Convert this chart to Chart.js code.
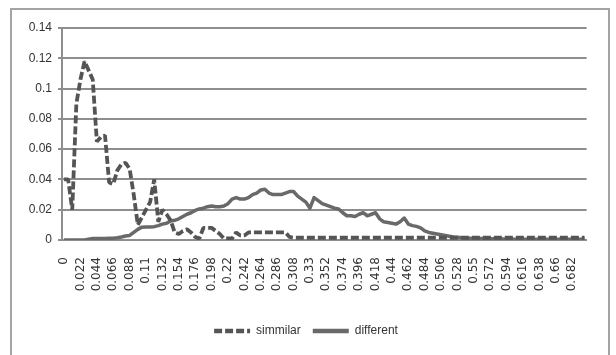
<!DOCTYPE html>
<html>
<head>
<meta charset="utf-8">
<script src="https://cdn.jsdelivr.net/npm/chart.js@4"></script>
<style>
  html, body { margin: 0; padding: 0; background: #fff; width: 616px; height: 355px; overflow: hidden; }
  #frame { position: absolute; left: 10px; top: 8px; width: 600px; height: 360px; border: 2px solid #a4a4a4; box-sizing: border-box; }
  #wrap { position: absolute; left: 0; top: 0; width: 616px; height: 355px; }
</style>
</head>
<body>
<div id="frame"></div>
<div id="wrap"><canvas id="c" width="616" height="355"></canvas></div>
<script>
// Category step 0.0055 (tick labels every 4th category = 0.022)
const categoryCount = 128;
const categoryStep = 0.0055;
const categories = Array.from({length: categoryCount}, (_, i) => (i * categoryStep).toFixed(4));

const xTickLabels = ['0','0.022','0.044','0.066','0.088','0.11','0.132','0.154','0.176','0.198',
  '0.22','0.242','0.264','0.286','0.308','0.33','0.352','0.374','0.396','0.418',
  '0.44','0.462','0.484','0.506','0.528','0.55','0.572','0.594','0.616','0.638','0.66','0.682'];

const yTickLabels = ['0','0.02','0.04','0.06','0.08','0.1','0.12','0.14'];

const simmilar = [
  0.04,0.04,0.02,0.09,0.106,0.118,0.112,0.106,0.065,0.068,
  0.069,0.038,0.037,0.046,0.05,0.051,0.047,0.03,0.01,0.015,
  0.02,0.025,0.04,0.012,0.02,0.017,0.013,0.005,0.004,0.006,
  0.007,0.005,0.002,0.001,0.008,0.008,0.008,0.006,0.004,0.001,
  0.001,0.001,0.005,0.003,0.003,
  0.005,0.005,0.005,0.005,0.005,0.005,0.005,0.005,0.005,0.005,
  0.002,
  0.0015,0.0015,0.0015,0.0015,0.0015,0.0015,0.0015,0.0015,0.0015,0.0015,
  0.0015,0.0015,0.0015,0.0015,0.0015,0.0015,0.0015,0.0015,0.0015,0.0015,
  0.0015,0.0015,0.0015,0.0015,0.0015,0.0015,0.0015,0.0015,0.0015,0.0015,
  0.0015,0.0015,0.0015,0.0015,0.0015,0.0015,0.0015,0.0015,0.0015,0.0015,
  0.0015,0.0015,0.0015,0.0015,0.0015,0.0015,0.0015,0.0015,0.0015,0.0015,
  0.0015,0.0015,0.0015,0.0015,0.0015,0.0015,0.0015,0.0015,0.0015,0.0015,
  0.0015,0.0015,0.0015,0.0015,0.0015,0.0015,0.0015,0.0015,0.0015,0.0015,
  0.0015,0.0015
];

const different = [
  0,0,0,0,0,0,0.0005,0.001,0.001,0.001,
  0.001,0.0012,0.0012,0.0015,0.002,0.0026,0.003,0.005,0.007,0.0085,
  0.0086,0.0086,0.0088,0.0095,0.0105,0.011,0.0125,0.013,0.014,0.0155,
  0.017,0.018,0.0195,0.0205,0.021,0.022,0.0225,0.022,0.022,0.0225,
  0.024,0.027,0.028,0.027,0.027,0.028,0.030,0.031,0.033,0.0335,
  0.031,0.030,0.030,0.030,0.031,0.032,0.032,0.029,0.027,0.025,
  0.021,0.028,0.026,0.024,0.023,0.022,0.021,0.0205,0.018,0.016,
  0.016,0.0155,0.017,0.018,0.016,0.017,0.018,0.014,0.012,0.0115,
  0.011,0.0105,0.012,0.0145,0.0105,0.0095,0.009,0.008,0.006,0.005,
  0.0045,0.004,0.0035,0.003,0.0025,0.002,0.0018,0.0015,0.0012,0.0012,
  0.001,0.001,0.001,0.0008,0.0008,0.0008,0.0006,0.0006,0.0006,0.0006,
  0.0005,0.0005,0.0005,0.0005,0.0005,0.0005,0.0005,0.0005,0.0005,0.0005,
  0.0005,0.0005,0.0005,0.0005,0.0005,0.0005,0.0005,0.0005
];

const gridColor = '#8e8e8e';

new Chart(document.getElementById('c'), {
  type: 'line',
  data: {
    labels: categories,
    datasets: [
      {
        label: 'simmilar',
        data: simmilar,
        borderColor: '#555555',
        backgroundColor: '#555555',
        borderWidth: 3.8,
        borderDash: [8, 3],
        borderCapStyle: 'butt',
        borderJoinStyle: 'bevel',
        pointRadius: 0,
        tension: 0,
        fill: false
      },
      {
        label: 'different',
        data: different,
        borderColor: '#696969',
        backgroundColor: '#696969',
        borderWidth: 3.5,
        borderJoinStyle: 'round',
        pointRadius: 0,
        tension: 0,
        fill: false
      }
    ]
  },
  options: {
    responsive: false,
    animation: false,
    events: [],
    layout: { padding: { left: 12, right: 16, top: 28, bottom: 8 } },
    plugins: {
      tooltip: { enabled: false },
      legend: {
        position: 'bottom',
        labels: {
          usePointStyle: true,
          pointStyle: 'line',
          pointStyleWidth: 36,
          boxWidth: 36,
          boxHeight: 12,
          padding: 12,
          color: '#333',
          font: { family: 'Liberation Sans', size: 12 },
          generateLabels: (chart) => {
            const items = Chart.defaults.plugins.legend.labels.generateLabels(chart);
            items.forEach((it) => {
              const ds = chart.data.datasets[it.datasetIndex];
              it.lineWidth = 4.5;
              it.lineDash = ds.borderDash ? [8, 3] : [];
              it.strokeStyle = ds.borderColor;
              it.fillStyle = ds.borderColor;
              it.pointStyle = 'line';
            });
            return items;
          }
        }
      }
    },
    scales: {
      x: {
        offset: true,
        grid: { display: false, drawTicks: false },
        border: { display: true, color: gridColor, width: 2 },
        ticks: {
          autoSkip: false,
          minRotation: 90,
          maxRotation: 90,
          padding: 17,
          color: '#333333',
          font: { family: 'DejaVu Sans', size: 12 },
          callback: (v, i) => (i % 4 === 0 ? xTickLabels[i / 4] : '')
        },
        afterFit: (s) => { s.height = 73; }
      },
      y: {
        min: 0,
        max: 0.14,
        ticks: {
          stepSize: 0.02,
          padding: 6,
          color: '#333333',
          font: { family: 'Liberation Sans', size: 12 },
          callback: (v, i) => yTickLabels[i]
        },
        grid: { color: gridColor, lineWidth: 2, tickLength: 4 },
        border: { display: true, color: gridColor, width: 2 },
        afterFit: (s) => { s.width = 50; }
      }
    }
  }
});
</script>
</body>
</html>
